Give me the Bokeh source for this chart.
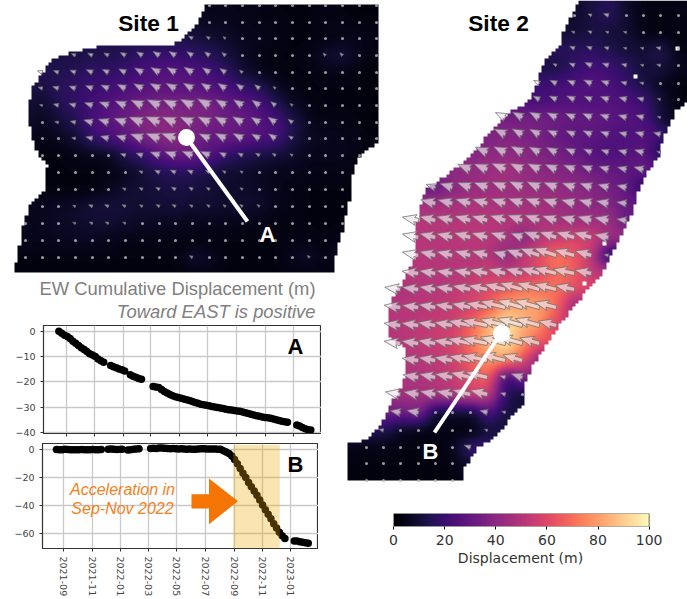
import math
import numpy as np
import pandas as pd
from bokeh.embed import file_html
from bokeh.layouts import column
from bokeh.models import (BoxAnnotation, DatetimeTickFormatter, FixedTicker, Label,
                          LinearColorMapper, PolyAnnotation, Range1d)
from bokeh.palettes import Magma256
from bokeh.plotting import figure
from bokeh.resources import INLINE

N = None

# ---- Site 1 map: displacement (m) read at the arrow grid
S1_X = [25, 42, 58, 75, 92, 108, 125, 142, 159, 175, 192, 209, 225, 242, 259, 275, 292, 309, 325, 342, 359, 376]
S1_Y = [5, 22, 38, 55, 72, 88, 105, 122, 138, 155, 172, 189, 206, 223, 240, 257, 273]
S1_D = [
    [N,N,N,N,N,N,N,N,N,N,N,5,5,4,4,3,3,3,4,3,2,2],
    [N,N,N,N,N,N,N,N,N,N,8,6,6,5,4,4,3,3,4,4,3,3],
    [N,N,N,N,N,N,N,N,N,13,12,10,8,6,5,4,3,3,4,5,5,4],
    [N,N,12,12,14,14,16,18,20,20,18,16,12,7,4,3,3,4,9,10,5,3],
    [N,14,14,16,18,18,20,24,26,26,26,22,18,10,6,4,3,3,4,4,3,2],
    [N,12,16,18,20,22,24,26,28,28,28,26,24,20,16,8,4,3,3,3,3,2],
    [10,8,14,18,22,26,30,34,36,36,36,36,30,28,24,16,8,4,3,3,3,2],
    [8,6,10,14,24,28,32,38,40,38,36,34,32,30,26,24,14,6,4,4,3,2],
    [6,4,6,10,18,22,26,34,38,40,34,30,30,28,24,22,12,7,6,5,4,3],
    [N,3,3,4,5,6,14,18,26,30,30,26,18,14,12,10,8,5,5,5,4,3],
    [N,N,3,3,3,4,6,10,14,15,15,12,9,8,6,5,5,4,4,4,3,3],
    [N,N,3,3,3,6,9,10,11,12,11,10,8,8,7,5,4,3,3,3,3,N],
    [N,6,7,8,11,11,10,9,10,10,9,9,8,9,8,5,4,3,3,3,N,N],
    [5,6,7,8,9,9,8,7,6,6,5,5,5,4,4,3,3,3,3,3,N,N],
    [5,5,6,6,6,5,4,4,4,3,3,3,3,3,3,3,4,4,3,5,N,N],
    [3,3,3,3,3,3,3,3,3,3,9,7,3,3,3,3,6,8,3,10,N,N],
    [3,3,3,3,3,3,3,3,3,3,3,3,3,3,3,3,3,3,3,3,N,N],
]
S1_ROW_ANGLE = [30, 30, 30, 32, 30, 28, 25, 22, 20, 20, 25, 30, 30, 30, 30, 30, 30]
S1_COL_ANGLE = [-12, -12, -10, -8, -6, -4, -2, 0, 0, 0, 2, 4, 6, 8, 10, 14, 14, 14, 14, 14, 14, 14]
S1_OUTLINE_X = [204, 378, 377, 365, 357, 352, 350, 345, 345, 337, 333, 333, 13, 18, 23, 30, 45, 46, 40, 33, 28, 27, 32, 40, 53, 70, 100, 170, 183, 195]
S1_OUTLINE_Y = [5, 5, 143, 150, 160, 172, 195, 213, 223, 243, 263, 272, 272, 247, 220, 202, 188, 165, 157, 143, 123, 107, 87, 73, 58, 52, 45, 45, 38, 25]

# ---- Site 2 map
S2_X = [366, 383, 400, 418, 435, 452, 470, 487, 505, 522, 539, 556, 574, 591, 608, 626, 643, 660, 678]
S2_Y = [15, 32, 48, 65, 83, 99, 117, 134, 152, 169, 187, 203, 220, 237, 255, 273, 289, 307, 325, 343, 360, 377, 394, 412, 430, 447, 463, 480]
S2_D = [
    [N,N,N,N,N,N,N,N,N,N,N,N,8,12,16,8,4,3,4],
    [N,N,N,N,N,N,N,N,N,N,N,N,10,12,10,10,4,3,3],
    [N,N,N,N,N,N,N,N,N,N,N,N,16,16,14,10,10,14,4],
    [N,N,N,N,N,N,N,N,N,N,N,12,18,22,20,16,10,12,6],
    [N,N,N,N,N,N,N,N,N,N,20,22,24,26,24,18,12,6,3],
    [N,N,N,N,N,N,N,N,N,N,22,24,26,24,26,24,20,10,3],
    [N,N,N,N,N,N,N,N,34,34,34,32,30,30,28,26,24,10,4],
    [N,N,N,N,N,N,N,36,38,36,34,30,28,28,26,24,26,22,6],
    [N,N,N,N,N,N,38,40,40,40,36,34,30,26,24,26,28,12,N],
    [N,N,N,N,N,40,42,44,46,42,40,38,36,32,30,28,30,N,N],
    [N,N,N,N,30,40,42,44,44,44,42,42,40,38,34,30,14,N,N],
    [N,N,N,N,46,46,48,48,46,46,46,44,42,40,38,30,N,N,N],
    [N,N,N,50,50,50,50,50,50,48,48,46,44,44,44,30,N,N,N],
    [N,N,N,50,50,50,52,50,48,38,50,54,58,56,44,N,N,N,N],
    [N,N,N,50,50,50,50,50,40,52,62,72,64,52,14,N,N,N,N],
    [N,N,N,50,50,50,52,56,54,54,60,70,66,52,N,N,N,N,N],
    [N,N,48,50,50,52,56,60,66,72,72,70,60,N,N,N,N,N,N],
    [N,N,50,50,52,54,58,66,82,82,80,68,40,N,N,N,N,N,N],
    [N,N,50,52,54,56,68,84,96,84,76,56,N,N,N,N,N,N,N],
    [N,N,50,52,54,58,70,84,96,76,62,N,N,N,N,N,N,N,N],
    [N,N,N,50,52,56,66,78,76,62,36,N,N,N,N,N,N,N,N],
    [N,N,N,48,50,54,62,68,18,36,N,N,N,N,N,N,N,N,N],
    [N,N,46,46,48,50,56,54,16,8,N,N,N,N,N,N,N,N,N],
    [N,N,32,36,8,8,8,24,12,N,N,N,N,N,N,N,N,N,N],
    [N,14,6,4,4,3,3,10,N,N,N,N,N,N,N,N,N,N,N],
    [4,4,3,3,3,6,20,N,N,N,N,N,N,N,N,N,N,N,N],
    [3,3,3,3,3,3,10,N,N,N,N,N,N,N,N,N,N,N,N],
    [3,3,3,3,3,3,6,N,N,N,N,N,N,N,N,N,N,N,N],
]
S2_ROW_ANGLE = [24, 24, 24, 24, 24, 24, 24, 24, 24, 22, 20, 16, 16, 16, 16, 12, 12, 12, 12, 12, 12, 14, 14, 14, 20, 20, 20, 20]
S2_COL_ANGLE = [-4, -4, -4, -4, -2, -2, 0, 0, 2, 4, 4, 2, 0, 0, -4, -8, -8, -8, -8]
S2_OUTLINE_X = [577, 572, 563, 558, 545, 538, 535, 527, 518, 508, 495, 485, 472, 455, 442, 425, 421, 415, 413, 402, 392, 387, 388, 405, 405, 398, 388, 380, 368, 357, 348, 348, 462, 462, 470, 477, 492, 508, 522, 525, 532, 542, 558, 575, 585, 598, 607, 612, 622, 632, 638, 648, 660, 662, 670, 675, 687, 687]
S2_OUTLINE_Y = [0, 13, 30, 47, 58, 72, 87, 102, 107, 112, 127, 137, 152, 167, 177, 188, 200, 227, 260, 280, 297, 315, 337, 347, 373, 390, 407, 423, 437, 442, 443, 481, 481, 470, 458, 447, 438, 420, 403, 383, 365, 350, 325, 303, 292, 277, 263, 250, 230, 210, 190, 170, 153, 137, 123, 110, 100, 0]
S2_HOLES_X = [677, 635, 604, 584]
S2_HOLES_Y = [48, 76, 243, 283]

# ---- Time series: days since 2021-09-01, metres
DAY_SEG1 = [-16, -10, -4, 2, 8, 14, 20, 26, 32, 38, 44, 50, 56, 62, 68, 74, 80]
DAY_SEG2 = [95, 101, 107, 113, 119, 125]
DAY_SEG3 = [137, 143, 149, 155, 161]
DAY_SEG4 = [186, 192, 198, 204, 210, 216, 222, 228, 234, 240, 246, 252, 258, 264, 270, 276, 282, 288, 294, 300,
            306, 312, 318, 324, 330, 336, 342, 348, 354, 360, 366, 372, 378, 384, 390, 396, 402, 408, 414, 420,
            426, 432, 438, 444, 450, 456, 462, 468, 474]
DAY_SEG5 = [494, 500, 506, 512, 518, 524]
SERIES_A = [0.0, -0.8, -1.6, -2.1, -2.9, -4.0, -4.8, -5.6, -6.5, -7.2, -8.0, -8.9, -9.4, -10.0, -11.0, -11.7, -12.3,
            -13.5, -14.0, -14.4, -14.9, -15.2, -15.7,
            -17.2, -17.8, -18.2, -18.7, -19.0,
            -21.8, -22.0, -22.2, -23.0, -23.8, -24.4, -25.0, -25.5, -25.9, -26.2, -26.5, -26.8, -27.1, -27.4, -27.8,
            -28.2, -28.5, -28.8, -29.0, -29.2, -29.4, -29.7, -29.9, -30.1, -30.3, -30.5, -30.8, -31.0, -31.1, -31.3,
            -31.5, -31.6, -31.9, -32.2, -32.5, -32.8, -33.1, -33.4, -33.6, -33.9, -34.1, -34.2, -34.4, -34.7, -35.0,
            -35.3, -35.6, -35.8, -36.0,
            -37.0, -37.4, -38.0, -38.5, -38.9, -39.0]
SERIES_B = [0.1, 0.0, -0.1, 0.2, 0.1, 0.0, -0.1, -0.1, 0.0, 0.1, 0.0, -0.1, 0.0, 0.1, -0.1, 0.0, 0.1,
            0.3, 0.4, 0.2, 0.1, 0.2, 0.3,
            -0.2, -0.1, 0.2, 0.5, 0.6,
            0.9, 1.0, 0.9, 1.1, 1.2, 1.0, 0.9, 0.7, 0.8, 0.6, 0.5, 0.6, 0.4, 0.3, 0.4, 0.2, 0.3, 0.5, 0.6, 0.6, 0.5,
            0.5, 0.4, 0.5, 0.3, 0.2, -0.8, -1.6, -2.8, -4.6, -7.0, -10.0, -13.4, -16.8, -20.0, -23.5, -26.5, -29.5,
            -32.6, -36.0, -39.6, -43.0, -46.2, -49.5, -53.0, -56.0, -59.0, -61.5, -63.5,
            -65.4, -65.4, -65.8, -66.2, -66.6, -67.0]
TICK_DATES = ["2021-09-01", "2021-11-01", "2022-01-01", "2022-03-01", "2022-05-01", "2022-07-01",
              "2022-09-01", "2022-11-01", "2023-01-01"]
A_YTICKS = [0, -10, -20, -30, -40]
B_YTICKS = [0, -20, -40, -60]
SPAN_START, SPAN_END = "2022-08-30", "2022-12-08"
CB_TICKS = [0, 20, 40, 60, 80, 100]

SANS = "Liberation Sans"
DEJA = "DejaVu Sans"
BORDER_L = 45   # a column lines up its plots' frames, so all share this left border and no right one
mapper = LinearColorMapper(palette=Magma256, low=0, high=100, nan_color=(0, 0, 0, 0))


def fill_row_gaps(rows):
    arr = np.array([[np.nan if v is None else float(v) for v in r] for r in rows])
    for r in arr:
        idx = np.where(~np.isnan(r))[0]
        r[:] = np.interp(np.arange(r.size), idx, r[idx])
    return arr


def inside(px, py, ox, oy):
    ox, oy = np.asarray(ox, float), np.asarray(oy, float)
    res = np.zeros(np.shape(px), bool)
    for i in range(len(ox)):
        j = (i - 1) % len(ox)
        cond = (oy[i] > py) != (oy[j] > py)
        with np.errstate(divide="ignore", invalid="ignore"):
            xc = (ox[j] - ox[i]) * (py - oy[i]) / (oy[j] - oy[i]) + ox[i]
        res ^= cond & (px < xc)
    return res


def raster(xs, ys, rows, ox, oy, x0, x1, y0, y1, cell):
    grid = fill_row_gaps(rows)
    gx = np.arange(x0, x1)
    gy = np.arange(y0, y1)
    by_row = np.array([np.interp(gx, xs, r) for r in grid])
    full = np.array([np.interp(gy, ys, by_row[:, c]) for c in range(gx.size)]).T
    k = 7
    pad = np.pad(full, k, mode="edge")
    ii = pad.cumsum(0).cumsum(1)
    ii = np.pad(ii, ((1, 0), (1, 0)))
    w = 2 * k + 1
    blur = (ii[w:, w:] - ii[:-w, w:] - ii[w:, :-w] + ii[:-w, :-w]) / (w * w)
    snapx = np.floor(gx / cell) * cell + cell / 2
    snapy = np.floor(gy / cell) * cell + cell / 2
    mx, my = np.meshgrid(snapx, snapy)
    blur = blur.copy()
    blur[~inside(mx, my, ox, oy)] = np.nan
    return blur


def arrows(fig, xs, ys, rows, row_ang, col_ang, ox, oy, scale, max_len):
    w, hl, ha, hw = 4.2, 14.0, 12.0, 11.0
    pxs, pys, dx, dy = [], [], [], []
    for i, y in enumerate(ys):
        for j, x in enumerate(xs):
            d = rows[i][j]
            if d is None or not inside(np.array(float(x)), np.array(float(y)), ox, oy):
                continue
            L = min(d * scale, max_len)
            if L < 3:
                dx.append(x)
                dy.append(y)
                continue
            th = math.radians(row_ang[i] + col_ang[j])
            ux, uy = -math.cos(th), -math.sin(th)
            nx, ny = -uy, ux
            s = min(1.0, L / hl)
            sw, shl, sha, shw = w * s, hl * s, ha * s, hw * s
            pts = [(0, sw / 2), (L - sha, sw / 2), (L - shl, shw / 2), (L, 0),
                   (L - shl, -shw / 2), (L - sha, -sw / 2), (0, -sw / 2)]
            pxs.append([x + a * ux + b * nx for a, b in pts])
            pys.append([y + a * uy + b * ny for a, b in pts])
    fig.patches(pxs, pys, fill_color="#f0e6ef", fill_alpha=0.68, line_color="#6b6f6b", line_alpha=0.75, line_width=1)
    fig.scatter(dx, dy, size=3, fill_color="#b8b4b8", line_color=None, fill_alpha=0.85)


def absolute(fig, frame_left, frame_top, frame_w, frame_h):
    """Place a figure so that its frame lies at these page pixels (the column starts BORDER_L left of the page)."""
    fig.width = BORDER_L + frame_w
    fig.height = fig.min_border_top + frame_h + fig.min_border_bottom
    fig.styles = {"position": "absolute", "left": f"{frame_left}px",
                  "top": f"{frame_top - fig.min_border_top}px",
                  "width": f"{fig.width}px", "height": f"{fig.height}px"}
    fig.min_border_left = BORDER_L
    fig.min_border_right = 0


def text(fig, frame, x, y, s, size, color="black", style="normal", align="center", font=SANS):
    fig.add_layout(Label(x=x - frame[0], y=frame[1] - y, x_units="screen", y_units="screen", text=s,
                         text_font=font, text_font_size=f"{size}px", text_color=color,
                         text_font_style=style, text_align=align, text_baseline="middle"))


# ---- page canvas with maps and texts, in page pixels
main = figure(x_range=Range1d(0, 687), y_range=Range1d(599, 0), output_backend="svg",
              toolbar_location=None, min_border_top=0, min_border_bottom=0,
              x_axis_location=None, y_axis_location=None)
main.grid.visible = False
main.outline_line_color = None
absolute(main, 0, 0, 687, 599)
MAIN_F = (0, 599)

img1 = raster(S1_X, S1_Y, S1_D, S1_OUTLINE_X, S1_OUTLINE_Y, 10, 381, 3, 276, 3.4)
img2 = raster(S2_X, S2_Y, S2_D, S2_OUTLINE_X, S2_OUTLINE_Y, 346, 687, 0, 484, 3.4)
main.image([img1], x=10, y=3, dw=371, dh=273, color_mapper=mapper)
main.image([img2], x=346, y=0, dw=341, dh=484, color_mapper=mapper)
main.rect(S2_HOLES_X, S2_HOLES_Y, width=4, height=4, fill_color="white", line_color=None)
arrows(main, S1_X, S1_Y, S1_D, S1_ROW_ANGLE, S1_COL_ANGLE, S1_OUTLINE_X, S1_OUTLINE_Y, 0.38, 16)
arrows(main, S2_X, S2_Y, S2_D, S2_ROW_ANGLE, S2_COL_ANGLE, S2_OUTLINE_X, S2_OUTLINE_Y, 0.33, 26)

main.line([186, 247], [137, 221], line_color="white", line_width=4)
main.line([501, 434], [332, 432], line_color="white", line_width=4)
main.scatter([186, 501], [137, 333], size=17, fill_color="white", line_color=None)

text(main, MAIN_F, 148, 22, "Site 1", 22.7, style="bold")
text(main, MAIN_F, 498, 22, "Site 2", 22.7, style="bold")
text(main, MAIN_F, 267, 234, "A", 22, color="white", style="bold")
text(main, MAIN_F, 430, 451, "B", 22, color="white", style="bold")
text(main, MAIN_F, 315, 288, "EW Cumulative Displacement (m)", 18.4, color="#7f7f7f", align="right")
text(main, MAIN_F, 315, 311, "Toward EAST is positive", 18.4, color="#7f7f7f", style="italic", align="right")
text(main, MAIN_F, 520, 557, "Displacement (m)", 14, color="#333333", font=DEJA)


def ms(d):
    return pd.Timestamp(d).timestamp() * 1000


def panel(bottom_border, x_start, x_end, y_low, y_high, yticks, series, labels):
    fig = figure(x_axis_type="datetime",
                 x_range=Range1d(ms(x_start), ms(x_end)), y_range=Range1d(y_low, y_high),
                 output_backend="svg", toolbar_location=None,
                 min_border_top=2, min_border_bottom=bottom_border, border_fill_color=None)
    fig.xaxis.ticker = FixedTicker(ticks=[ms(d) for d in TICK_DATES])
    fig.xaxis.formatter = DatetimeTickFormatter(days="%Y-%m", months="%Y-%m", years="%Y-%m")
    fig.yaxis.ticker = FixedTicker(ticks=yticks)
    fig.yaxis.major_label_overrides = {t: (f"\u2212{abs(t)}" if t < 0 else str(t)) for t in yticks}
    for ax in [fig.xaxis[0], fig.yaxis[0]]:
        ax.major_label_text_font = DEJA
        ax.major_label_text_font_size = "9.5px"
        ax.major_label_text_color = "#444444"
        ax.major_tick_line_color = "#333333"
        ax.major_tick_in = 0
        ax.major_tick_out = 3
        ax.minor_tick_line_color = None
        ax.axis_line_color = "#333333"
    fig.xaxis.major_label_orientation = -math.pi / 2
    if not labels:
        fig.xaxis.major_label_text_color = None
    fig.grid.grid_line_color = "#c9c9c9"
    fig.grid.grid_line_width = 1.3
    fig.outline_line_color = "#333333"
    fig.outline_line_width = 1.2
    days = DAY_SEG1 + DAY_SEG2 + DAY_SEG3 + DAY_SEG4 + DAY_SEG5
    dates = pd.Timestamp("2021-09-01") + pd.to_timedelta(days, unit="D")
    fig.scatter(dates, series, size=7.5, fill_color="black", line_color=None)
    return fig


pa = panel(4, "2021-07-14", "2023-03-02", -40.4, 2.26, A_YTICKS, SERIES_A, False)
absolute(pa, 43, 325, 278, 108)
PA_F = (43, 433)
text(pa, PA_F, 295, 346, "A", 22, style="bold")

pb = panel(49, "2021-07-17", "2023-03-01", -70.7, 4.4, B_YTICKS, SERIES_B, True)
absolute(pb, 42, 443, 276, 107)
PB_F = (42, 550)
pb.add_layout(BoxAnnotation(left=ms(SPAN_START), right=ms(SPAN_END), top=3.3, bottom=-70.7,
                            fill_color="#f0a800", fill_alpha=0.3, line_color=None))
ARROW_X = [191, 208.5, 208.5, 237.5, 208.5, 208.5, 191]
ARROW_Y = [495.7, 495.7, 480, 502.7, 525.7, 510, 510]
pb.add_layout(PolyAnnotation(xs=[x - PB_F[0] for x in ARROW_X], ys=[PB_F[1] - y for y in ARROW_Y],
                             xs_units="screen", ys_units="screen", fill_color="#f47404", fill_alpha=1, line_color=None))
text(pb, PB_F, 122, 491, "Acceleration in", 16, color="#f4811c", style="italic")
text(pb, PB_F, 122, 510, "Sep-Nov 2022", 16, color="#f4811c", style="italic")
text(pb, PB_F, 295, 466, "B", 22, style="bold")

# ---- colour bar: its frame runs on past 100 so that the last tick label has room
CB_MAX = 106.0
cb = figure(x_range=Range1d(CB_TICKS[0], CB_MAX), y_range=Range1d(0, 1),
            output_backend="svg", toolbar_location=None, y_axis_location=None,
            min_border_top=3, min_border_bottom=27, border_fill_color=None)
absolute(cb, 393, 513, round(256 * CB_MAX / CB_TICKS[-1]), 13)
cb.grid.visible = False
cb.outline_line_color = None
cb.image([np.linspace(CB_TICKS[0], CB_TICKS[-1], 256).reshape(1, 256)], x=0, y=0, dw=CB_TICKS[-1], dh=1, color_mapper=mapper)
cb.line([CB_TICKS[0], CB_TICKS[-1], CB_TICKS[-1], CB_TICKS[0], CB_TICKS[0]], [0, 0, 1, 1, 0], line_color="#6b6b50", line_width=1)
cb.xaxis.ticker = FixedTicker(ticks=CB_TICKS)
cb.xaxis.major_label_text_font = DEJA
cb.xaxis.major_label_text_font_size = "14px"
cb.xaxis.major_label_text_color = "#333333"
cb.xaxis.major_tick_in = 0
cb.xaxis.major_tick_out = 3
cb.xaxis.minor_tick_line_color = None
cb.xaxis.axis_line_color = None

page = column(main, pa, pb, cb, width=BORDER_L + 687, height=599,
              styles={"position": "absolute", "left": f"{-BORDER_L}px", "top": "0px"})
open("out.html", "w").write(file_html(page, INLINE))
